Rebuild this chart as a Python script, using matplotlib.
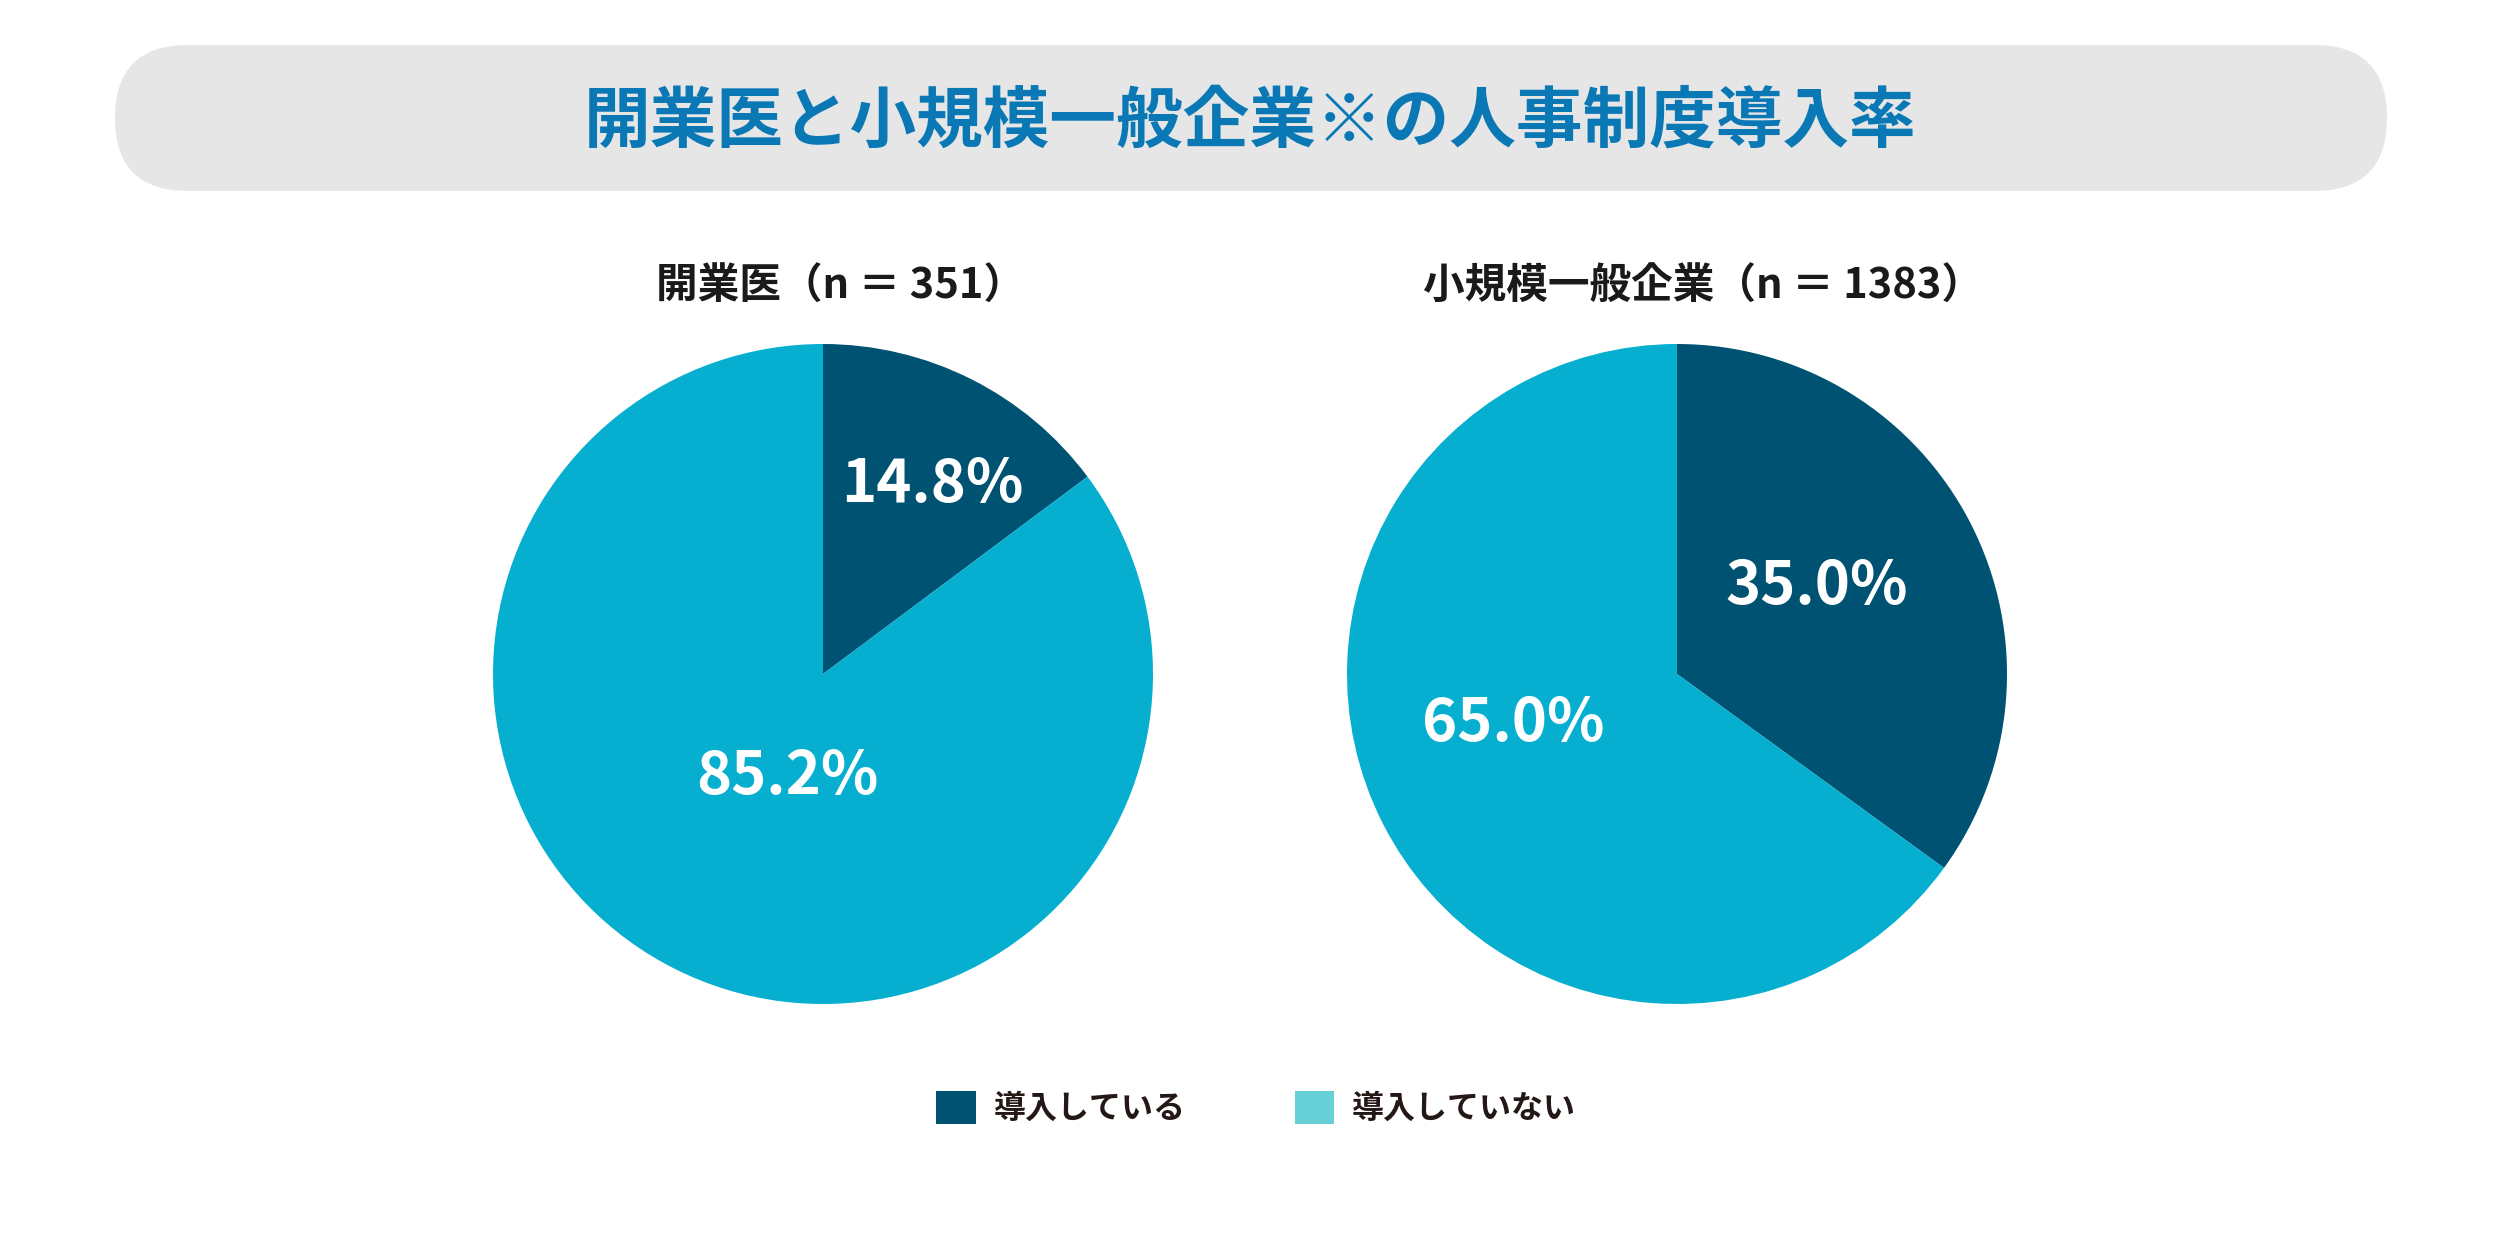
import numpy as np
import matplotlib
matplotlib.use("Agg")
import matplotlib.pyplot as plt
from matplotlib.patches import FancyBboxPatch, Patch

plt.rcParams['font.family'] = ['Noto Sans CJK JP', 'DejaVu Sans']

# データ
title = "開業医と小規模一般企業※の人事制度導入率"
groups = ["開業医（n ＝ 351）", "小規模一般企業（n ＝ 1383）"]
categories = ["導入している", "導入していない"]
clinic = [14.8, 85.2]
company = [35.0, 65.0]
values = [clinic, company]
# ラベル位置 (半径比, 角度)
label_pos = [[(0.66, 60), (0.33, -109)], [(0.50, 32), (0.52, -163)]]
# 小見出しの横位置 (axes 座標)
subtitle_x = [0.527, 0.539]

dark = "#005272"
light_pie = "#06AFCF"
light_legend = "#67CFD6"
title_color = "#0A78B5"

fig = plt.figure(figsize=(25, 12.5), dpi=100)
fig.patch.set_facecolor("white")

# 背景の帯とタイトル
bg = fig.add_axes([0, 0, 1, 1])
bg.set_xlim(0, 2500)
bg.set_ylim(1250, 0)
bg.axis("off")
banner = FancyBboxPatch((115, 45), 2272, 146,
                        boxstyle="round,pad=0,rounding_size=73",
                        facecolor="#E6E6E6", edgecolor="none")
bg.add_patch(banner)
bg.text(1250, 122, title, ha="center", va="center", fontsize=48,
        fontweight="bold", color=title_color)

# 円グラフ
pie_pos = [[0.1972, 0.1968, 0.264, 0.528], [0.5388, 0.1968, 0.264, 0.528]]
for i in range(len(groups)):
    ax = fig.add_axes(pie_pos[i])
    wedges, _ = ax.pie(values[i], colors=[dark, light_pie], startangle=90,
                       counterclock=False, radius=1.0,
                       wedgeprops=dict(linewidth=0))
    ax.set_xlim(-1, 1)
    ax.set_ylim(-1, 1)
    ax.set_aspect("equal")
    ax.text(subtitle_x[i], 1.086, groups[i], transform=ax.transAxes,
            ha="center", va="center", fontsize=30, fontweight="bold",
            color="#1a1a1a")
    for j in range(len(values[i])):
        d, a = label_pos[i][j]
        ang = np.deg2rad(a)
        ax.text(d * np.cos(ang), d * np.sin(ang), "%.1f%%" % values[i][j],
                ha="center", va="center", fontsize=43, fontweight="bold",
                color="white")

# 凡例
handles = [Patch(facecolor=dark, edgecolor="none"),
           Patch(facecolor=light_legend, edgecolor="none")]
fig.legend(handles, categories, loc="center", bbox_to_anchor=(0.5025, 0.1136),
           ncol=2, frameon=False, handlelength=1.25,
           handleheight=1.25, handletextpad=0.55, columnspacing=3.4,
           labelcolor="#231815", prop={"weight": "bold", "size": 23})

fig.savefig("out.png", dpi=100)
